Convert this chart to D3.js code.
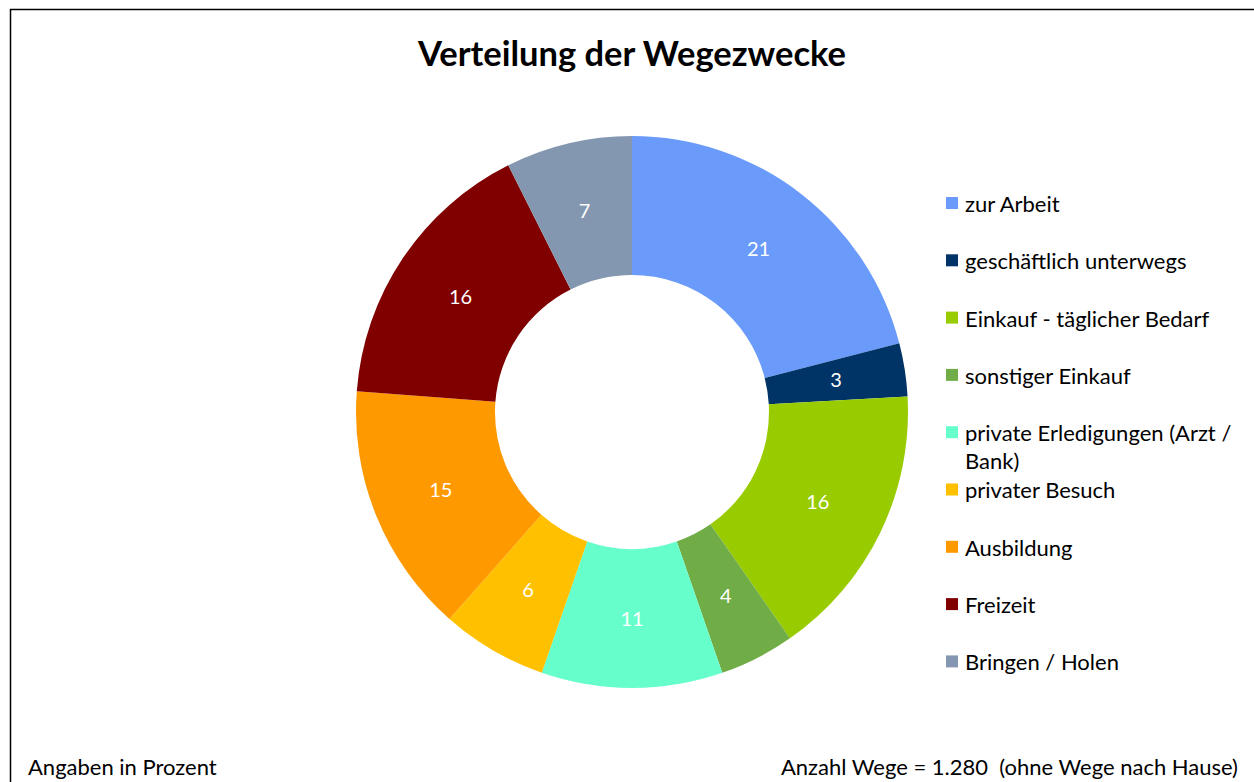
<!DOCTYPE html>
<html>
<head>
<meta charset="utf-8">
<script src="https://cdn.jsdelivr.net/npm/d3@7"></script>
<style>
  html, body { margin: 0; padding: 0; background: #fff; }
  svg { display: block; font-family: Lato, "Open Sans", sans-serif; }
</style>
</head>
<body>
<svg id="chart" width="1254" height="782"></svg>
<script>
// Categories, values (percent) and colours
const categories = [
    'zur Arbeit',
    'geschäftlich unterwegs',
    'Einkauf - täglicher Bedarf',
    'sonstiger Einkauf',
    'private Erledigungen (Arzt / Bank)',
    'privater Besuch',
    'Ausbildung',
    'Freizeit',
    'Bringen / Holen'
];
const shares = [21.0, 3.1, 16.2, 4.4, 10.6, 6.2, 14.7, 16.4, 7.4];
const colors = ['#6A9BFA', '#003366', '#99CC00', '#70AD47', '#66FFCC', '#FFC000', '#FF9900', '#800000', '#8497B0'];

const data = categories.map((c, i) => ({ name: c, value: shares[i], color: colors[i] }));

const svg = d3.select('#chart');

// Frame around the chart (runs off the right / bottom edge)
svg.append('rect')
    .attr('x', 10.5)
    .attr('y', 9.5)
    .attr('width', 1300)
    .attr('height', 800)
    .attr('fill', 'none')
    .attr('stroke', '#000')
    .attr('stroke-width', 1.5);

// Title
svg.append('text')
    .attr('x', 632)
    .attr('y', 66)
    .attr('text-anchor', 'middle')
    .style('font-size', '34.5px')
    .style('font-weight', 'bold')
    .attr('fill', '#000')
    .text('Verteilung der Wegezwecke');

// Donut
const cx = 632, cy = 412;
const outerR = 276, innerR = 137;

const pie = d3.pie()
    .value(d => d.value)
    .sort(null);

const arc = d3.arc()
    .innerRadius(innerR)
    .outerRadius(outerR);

const g = svg.append('g')
    .attr('transform', `translate(${cx},${cy})`);

const arcs = pie(data);

g.selectAll('path')
    .data(arcs)
    .enter()
    .append('path')
    .attr('d', arc)
    .attr('fill', d => d.data.color);

g.selectAll('text.val')
    .data(arcs)
    .enter()
    .append('text')
    .attr('class', 'val')
    .attr('transform', d => `translate(${arc.centroid(d)})`)
    .attr('text-anchor', 'middle')
    .attr('dy', '0.35em')
    .attr('fill', '#fff')
    .style('font-size', '20px')
    .text(d => Math.round(d.data.value));

// Legend
const legendX = 946;
const legendY = 204;
const rowStep = 57.3;
const legend = svg.append('g');

const rows = legend.selectAll('g')
    .data(data)
    .enter()
    .append('g')
    .attr('transform', (d, i) => `translate(${legendX},${legendY + i * rowStep})`);

rows.append('rect')
    .attr('x', 0)
    .attr('y', -7)
    .attr('width', 12)
    .attr('height', 12)
    .attr('fill', d => d.color);

// long label wraps onto a second line like the original
rows.append('text')
    .attr('x', 19)
    .attr('y', 0)
    .attr('dy', '0.36em')
    .attr('fill', '#000')
    .style('font-size', '22px')
    .each(function (d) {
        const t = d3.select(this);
        if (d.name.length > 30) {
            const cut = d.name.lastIndexOf(' ');
            t.append('tspan').attr('x', 19).text(d.name.slice(0, cut));
            t.append('tspan').attr('x', 19).attr('dy', 28).text(d.name.slice(cut + 1));
        } else {
            t.text(d.name);
        }
    });

// Footnotes
svg.append('text')
    .attr('x', 28)
    .attr('y', 775)
    .attr('fill', '#000')
    .style('font-size', '22px')
    .text('Angaben in Prozent');

svg.append('text')
    .attr('x', 1238)
    .attr('y', 775)
    .attr('text-anchor', 'end')
    .attr('fill', '#000')
    .style('font-size', '22px')
    .style('white-space', 'pre')
    .text('Anzahl Wege = 1.280  (ohne Wege nach Hause)');
</script>
</body>
</html>
